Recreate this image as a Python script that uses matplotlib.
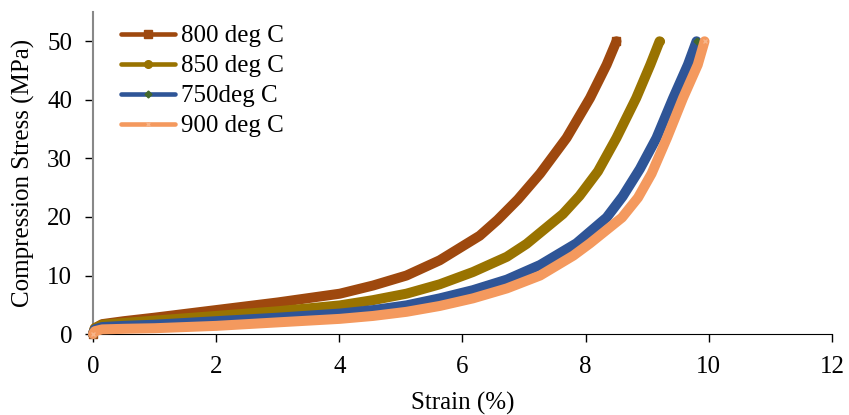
import matplotlib
matplotlib.use('Agg')
import matplotlib.pyplot as plt

plt.rcParams['font.family'] = ['Liberation Serif', 'DejaVu Serif']

# strain (%) / stress (MPa)
x_800 = [0, 0.03, 0.15, 0.5, 1, 2, 3, 4.01, 4.55, 5.09, 5.63, 6.28, 6.57, 6.9, 7.26, 7.69, 8.07, 8.34, 8.5]
y_800 = [0, 1.0, 1.7, 2.2, 2.8, 4.1, 5.4, 6.9, 8.3, 10.0, 12.6, 16.8, 19.5, 23.0, 27.4, 33.5, 40.3, 46, 50]

x_850 = [0, 0.03, 0.15, 0.5, 1, 2, 3, 4.01, 4.55, 5.09, 5.63, 6.17, 6.72, 7.04, 7.63, 7.9, 8.2, 8.5, 8.82, 9.05, 9.2]
y_850 = [0, 1.0, 1.6, 1.9, 2.3, 3.1, 3.9, 4.9, 5.8, 6.9, 8.5, 10.6, 13.2, 15.4, 20.5, 23.6, 27.8, 33.5, 40.3, 46, 50]

x_750 = [0, 0.03, 0.15, 0.5, 1, 2, 3, 4.01, 4.55, 5.09, 5.63, 6.17, 6.72, 7.26, 7.85, 8.34, 8.6, 8.88, 9.15, 9.42, 9.66, 9.8]
y_750 = [0, 0.8, 1.2, 1.4, 1.6, 2.2, 2.8, 3.5, 4.1, 4.9, 6.1, 7.5, 9.3, 11.8, 15.5, 19.9, 23.5, 28.2, 33.5, 40.3, 46, 50]

x_900 = [0, 0.03, 0.15, 0.5, 1, 2, 3, 4.01, 4.55, 5.09, 5.63, 6.17, 6.72, 7.26, 7.8, 8.07, 8.59, 8.85, 9.07, 9.32, 9.58, 9.82, 9.93]
y_900 = [0, 0.5, 0.8, 0.9, 1.0, 1.4, 2.0, 2.6, 3.1, 3.8, 4.8, 6.1, 7.8, 10.0, 13.4, 15.5, 19.9, 23.3, 27.4, 33.5, 40.3, 46, 50]

series = [
    ('800 deg C', x_800, y_800, '#9E480E', 's', '#9E480E', 6),
    ('850 deg C', x_850, y_850, '#997300', 'o', '#997300', 5.5),
    ('750deg C', x_750, y_750, '#2F5597', 'D', '#43682B', 3.5),
    ('900 deg C', x_900, y_900, '#F4995E', 'x', '#F7B58A', 3.5),
]

fig = plt.figure(figsize=(8.49, 4.15), dpi=100)
ax = fig.add_axes([0.1095, 0.195, 0.8705, 0.776])

for label, xs, ys, col, mk, mcol, ms in series:
    ax.plot(xs, ys, color=col, lw=7.2, solid_capstyle='round',
            solid_joinstyle='round', marker=mk, markevery=[0, len(xs) - 1],
            markersize=ms, markerfacecolor=mcol, markeredgecolor=mcol,
            label=label, clip_on=False, zorder=3)

ax.set_xlim(0, 12)
ax.set_ylim(0, 55)
ax.set_xticks(range(0, 13, 2))
ax.set_yticks(range(0, 51, 10))
ax.tick_params(labelsize=18, direction='out', length=6, width=1)
ax.tick_params(axis='x', pad=10)
ax.tick_params(axis='y', pad=9)
ax.spines['top'].set_visible(False)
ax.spines['right'].set_visible(False)
ax.spines['left'].set_color('#888888')
ax.spines['left'].set_linewidth(1.5)
ax.spines['bottom'].set_color('black')

ax.set_xlabel('Strain (%)', fontsize=18, labelpad=10)
ax.set_ylabel('Compression Stress (MPa)', fontsize=18, labelpad=9)

leg = ax.legend(loc='upper left', bbox_to_anchor=(0.143, 0.94), bbox_transform=fig.transFigure,
                frameon=False, fontsize=18, handlelength=2.15, handletextpad=0.22,
                labelspacing=0.3, borderaxespad=0, borderpad=0)
for h in leg.get_lines():
    h.set_linewidth(3.3)

fig.savefig('out.png', dpi=100)
